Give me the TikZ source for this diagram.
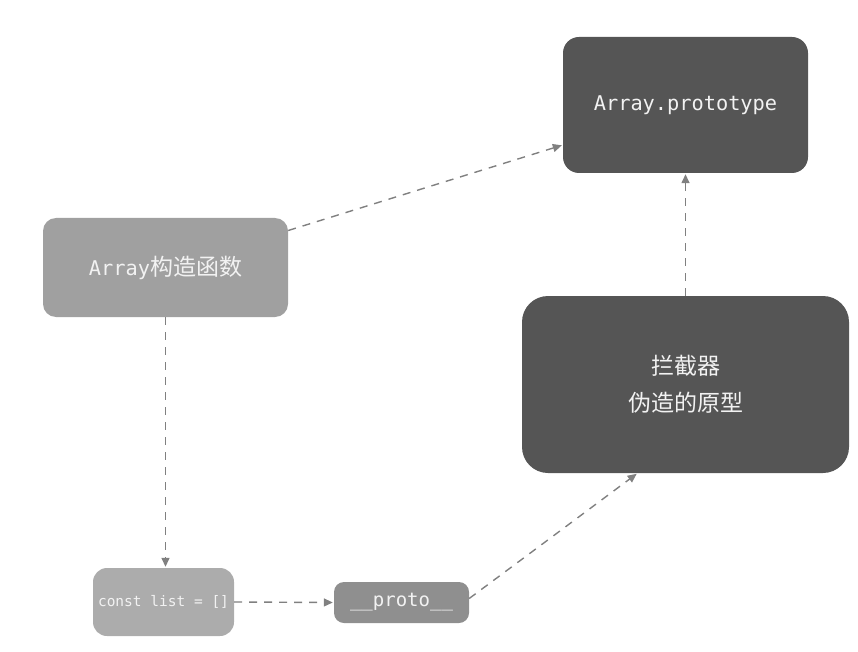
\documentclass[tikz,border=0pt]{standalone}
\usepackage{fontspec}
\setmonofont{DejaVu Sans Mono}
\newfontfamily\cjk{Noto Sans CJK SC}
\usetikzlibrary{arrows.meta}
\definecolor{darkbox}{HTML}{555555}
\definecolor{midbox}{HTML}{A0A0A0}
\definecolor{lightbox}{HTML}{ACACAC}
\definecolor{protobox}{HTML}{8F8F8F}
\definecolor{linkgray}{HTML}{808080}
\definecolor{txt}{HTML}{F2F2F2}
\tikzset{
  boxbase/.style={rectangle, inner sep=0pt, text=txt, align=center},
  link/.style={draw=linkgray, line width=1.4pt, dash pattern=on 8pt off 7pt,
    -{Triangle[length=9pt,width=8pt]}, shorten >=1pt}
}
\begin{document}
\begin{tikzpicture}[x=1pt,y=-1pt]
\useasboundingbox (0,0) rectangle (858,652);
\node[boxbase, fill=darkbox, rounded corners=16pt, minimum width=245pt, minimum height=136pt,
  font=\ttfamily\fontsize{20.3}{24}\selectfont] (proto) at (685.5,105) {Array.prototype};
\node[boxbase, fill=midbox, rounded corners=13pt, minimum width=245pt, minimum height=99pt,
  font=\ttfamily\fontsize{20.3}{24}\selectfont] (ctor) at (165.5,267.5) {Array{\cjk\fontsize{23}{26}\selectfont 构造函数}};
\node[boxbase, fill=lightbox, rounded corners=14pt, minimum width=141pt, minimum height=68pt,
  font=\ttfamily\fontsize{14.5}{17}\selectfont] (list) at (163.5,602) {const list = []};
\node[boxbase, fill=protobox, rounded corners=10pt, minimum width=135pt, minimum height=41pt,
  font=\ttfamily\fontsize{19}{22}\selectfont] (plink) at (401.5,602.5) {\_\_proto\_\_};
\node[boxbase, fill=darkbox, rounded corners=26pt, minimum width=327pt, minimum height=177pt,
  font=\cjk\fontsize{23}{37}\selectfont] (inter) at (685.5,384.5) {拦截器\\伪造的原型};
\draw[link] ([yshift=37pt]ctor.east) -- ([yshift=-40pt]proto.west);
\draw[link] (ctor.south) -- (ctor.south |- list.north);
\draw[link] (list.east) -- (plink.west);
\draw[link] ([yshift=4pt]plink.east) -- ([xshift=-48pt]inter.south);
\draw[link] (inter.north) -- (proto.south);
\end{tikzpicture}
\end{document}
